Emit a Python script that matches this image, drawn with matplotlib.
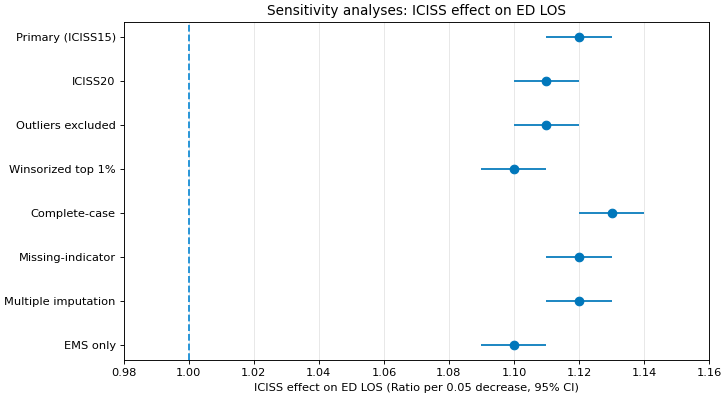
import matplotlib
matplotlib.use("Agg")
import matplotlib.pyplot as plt

labels = ["Primary (ICISS15)", "ICISS20", "Outliers excluded", "Winsorized top 1%",
          "Complete-case", "Missing-indicator", "Multiple imputation", "EMS only"]
est = [1.12, 1.11, 1.11, 1.10, 1.13, 1.12, 1.12, 1.10]
lo = [1.11, 1.10, 1.10, 1.09, 1.12, 1.11, 1.11, 1.09]
hi = [1.13, 1.12, 1.12, 1.11, 1.14, 1.13, 1.13, 1.11]
xticks = [0.98, 1.00, 1.02, 1.04, 1.06, 1.08, 1.10, 1.12, 1.14, 1.16]

y = list(range(len(labels)))
err = [[e - l for e, l in zip(est, lo)], [h - e for e, h in zip(est, hi)]]

dpi = 82
fig, ax = plt.subplots(figsize=(728 / dpi, 397 / dpi), dpi=dpi)
ax.errorbar(est, y, xerr=err, fmt="o", color="#0077bb", ecolor="#1a86c2",
            elinewidth=1.7, markersize=7.5, capsize=0, zorder=3)
ax.axvline(1.0, color="#1a8fd6", linestyle="--", linewidth=1.6, zorder=2)
ax.set_yticks(y)
ax.set_yticklabels(labels)
ax.invert_yaxis()
ax.set_xlim(0.98, 1.16)
ax.set_xticks(xticks)
ax.set_xticklabels(["%.2f" % t for t in xticks])
ax.grid(axis="x", color="#e6e6e6", linewidth=0.8)
ax.set_axisbelow(True)
ax.set_xlabel("ICISS effect on ED LOS (Ratio per 0.05 decrease, 95% CI)")
ax.set_title("Sensitivity analyses: ICISS effect on ED LOS")
fig.subplots_adjust(left=0.170, right=0.974, top=0.945, bottom=0.093)
fig.savefig("out.png", dpi=dpi)
